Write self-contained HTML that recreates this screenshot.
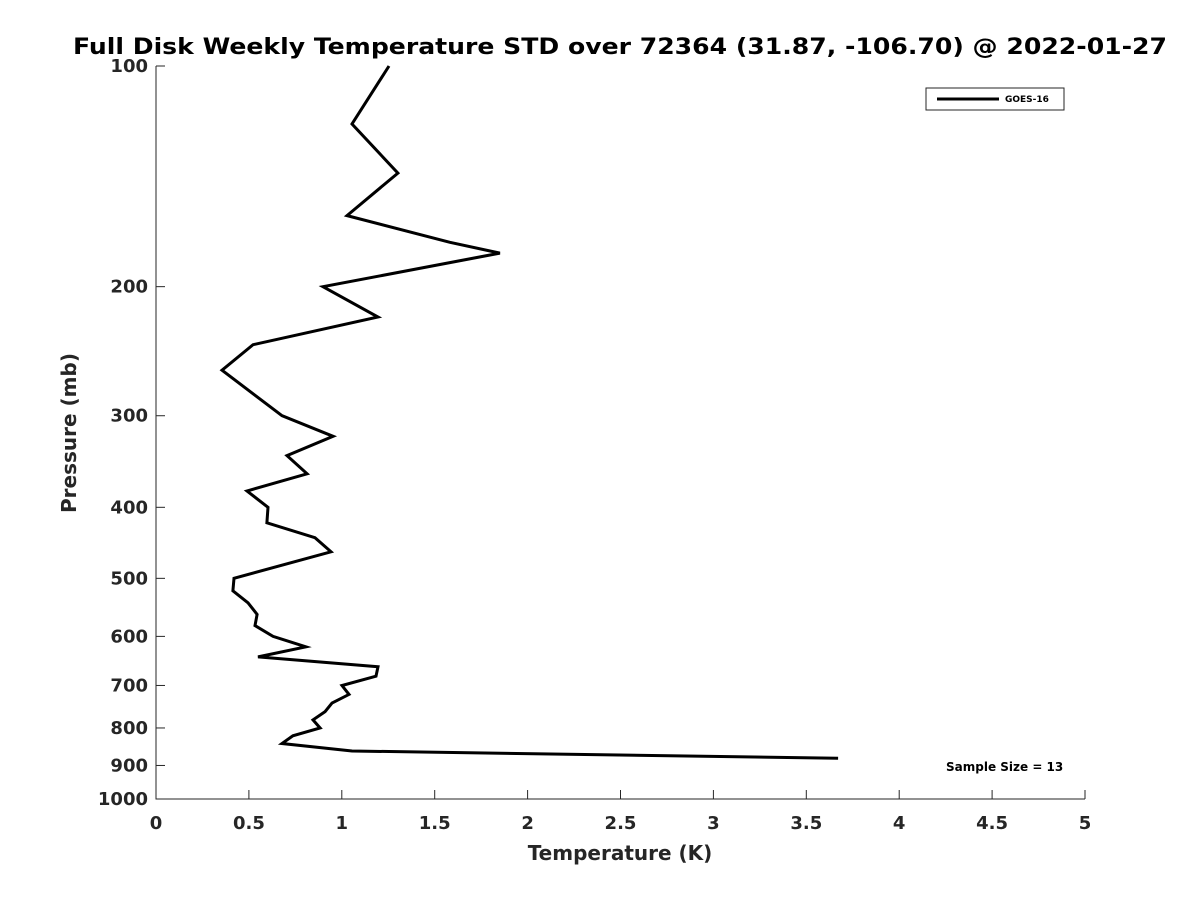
<!DOCTYPE html>
<html><head><meta charset="utf-8"><style>
body{margin:0;background:#fff;}
svg{display:block;font-family:"DejaVu Sans","Liberation Sans",sans-serif;}
</style></head><body>
<svg id="chart" width="1200" height="900">
<text x="620" y="54" text-anchor="middle" font-size="22" font-weight="bold" fill="#000" textLength="1094" lengthAdjust="spacingAndGlyphs">Full Disk Weekly Temperature STD over 72364 (31.87, -106.70) @ 2022-01-27</text>
<g id="axes"></g>
<text x="620" y="860" text-anchor="middle" font-size="20" font-weight="bold" fill="#262626">Temperature (K)</text>
<text transform="translate(76,433) rotate(-90)" text-anchor="middle" font-size="20" font-weight="bold" fill="#262626">Pressure (mb)</text>
<g>
<rect x="926" y="88" width="138" height="22" fill="#fff" stroke="#262626" stroke-width="1"/>
<line x1="937" y1="99" x2="999" y2="99" stroke="#000" stroke-width="3"/>
<text x="1005" y="102" font-size="9" font-weight="bold" fill="#000">GOES-16</text>
</g>
<text x="946" y="771" font-size="12" font-weight="bold" fill="#000">Sample Size = 13</text>
</svg>
<script>
const pressures=[100,120,140,160,174,180,200,220,240,260,300,320,340,360,380,400,420,440,460,500,520,540,560,580,600,620,640,660,680,700,720,740,760,780,800,820,840,860,880];
const temps=[1.254,1.055,1.302,1.028,1.582,1.851,0.899,1.195,0.522,0.355,0.678,0.953,0.705,0.813,0.490,0.603,0.597,0.856,0.942,0.420,0.414,0.495,0.544,0.533,0.630,0.807,0.549,1.195,1.184,1.001,1.039,0.947,0.910,0.845,0.883,0.737,0.678,1.055,3.671];
const xTicks=[0,0.5,1,1.5,2,2.5,3,3.5,4,4.5,5];
const yTicks=[100,200,300,400,500,600,700,800,900,1000];
const NS="http://www.w3.org/2000/svg";
const L=156,R=1085,T=66,B=799;
const xs=v=>L+(v-0)/(5-0)*(R-L);
const ys=p=>T+(Math.log10(p)-2)*(B-T);
const g=document.getElementById('axes');
function mk(tag,attrs){const e=document.createElementNS(NS,tag);for(const k in attrs)e.setAttribute(k,attrs[k]);return e;}
const ax=mk('path',{d:`M${L},${T} L${L},${B} L${R},${B}`,fill:'none',stroke:'#262626','stroke-width':1});


g.appendChild(ax);
xTicks.forEach(t=>{const x=xs(t);
 const l=mk('line',{x1:x,y1:B,x2:x,y2:B-9,stroke:'#262626'});
 
 
 g.appendChild(l);
 const s=mk('text',{x:x,y:829,'text-anchor':'middle','font-size':18,'font-weight':'bold',fill:'#262626'});s.textContent=String(t);
 
 
 g.appendChild(s);});
yTicks.forEach(t=>{const y=ys(t);
 const l=mk('line',{x1:L,y1:y,x2:L+9,y2:y,stroke:'#262626'});
 
 
 g.appendChild(l);
 const s=mk('text',{x:148,y:y+6,'text-anchor':'end','font-size':18,'font-weight':'bold',fill:'#262626'});s.textContent=String(t);
 
 
 g.appendChild(s);});
const pts=temps.map((t,i)=>xs(t).toFixed(1)+','+ys(pressures[i]).toFixed(1)).join(' ');
const pl=mk('polyline',{points:pts,fill:'none',stroke:'#000','stroke-width':3,'stroke-linejoin':'miter'});


g.appendChild(pl);
</script>
</body></html>
